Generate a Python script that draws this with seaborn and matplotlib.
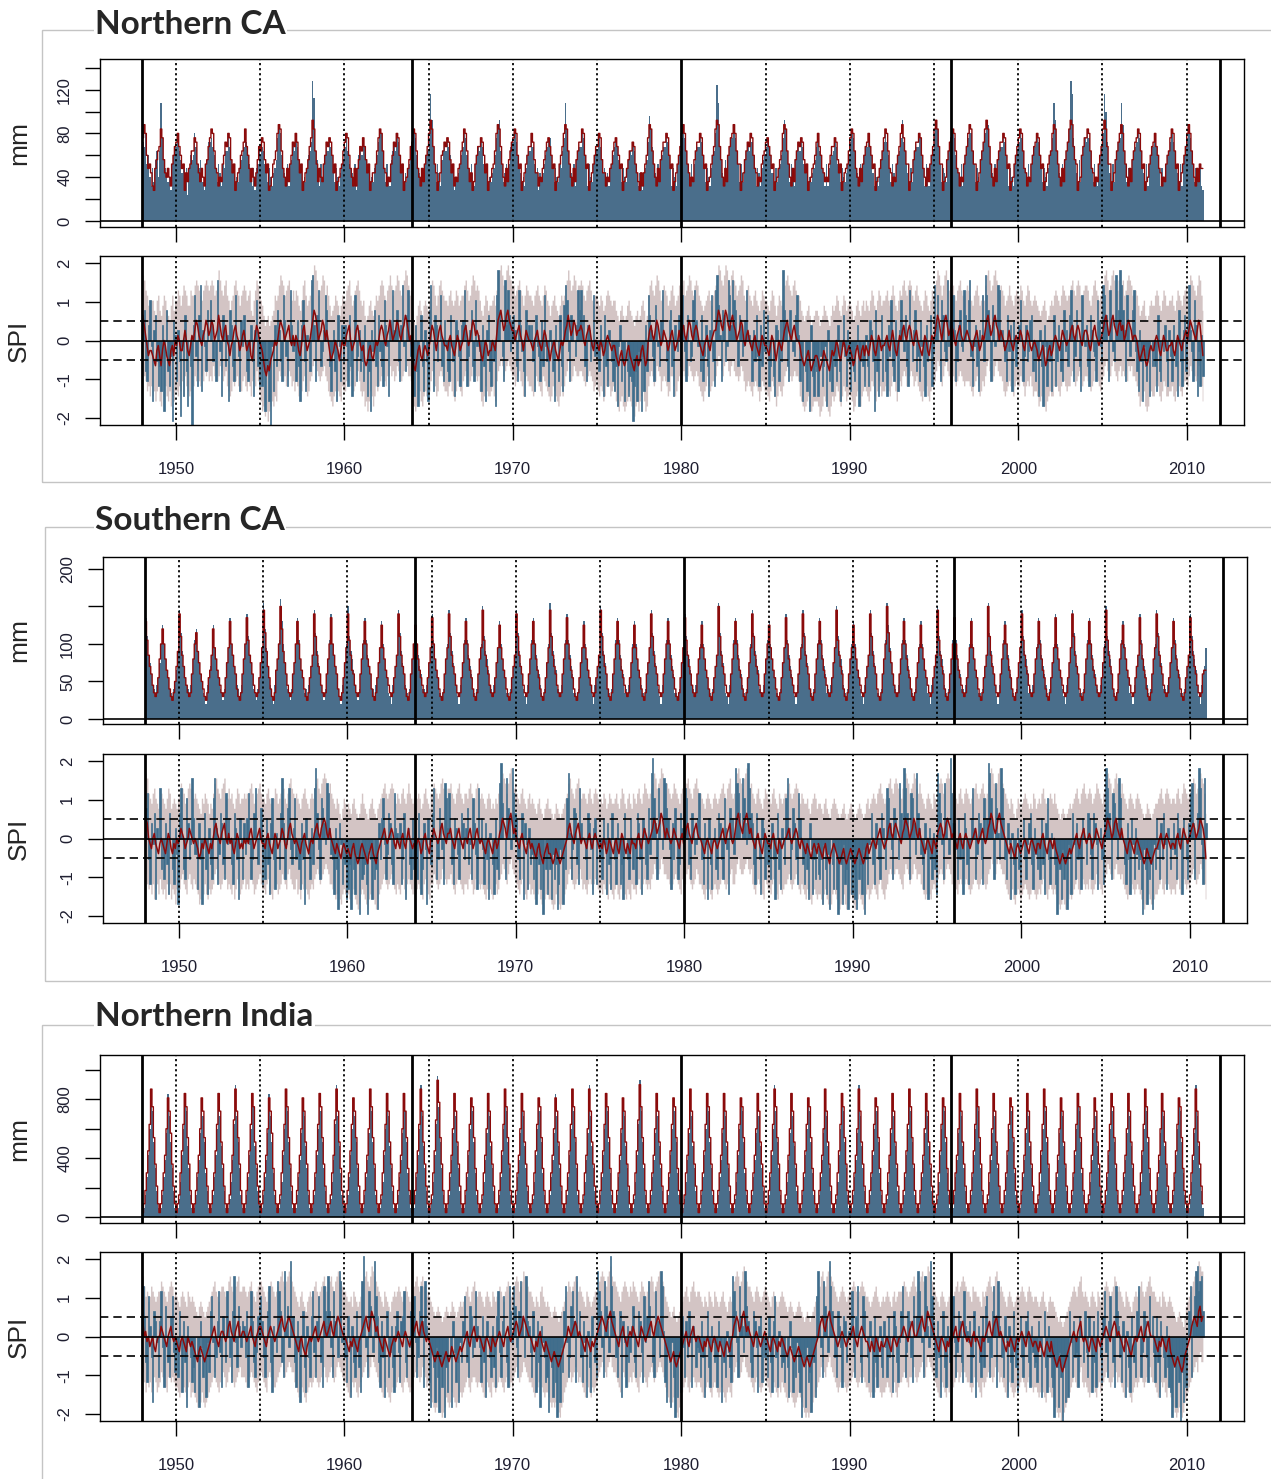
import numpy as np
import pandas as pd
import matplotlib
matplotlib.use("Agg")
import matplotlib.pyplot as plt
import seaborn as sns
from matplotlib.patches import Rectangle

# ---------------- data (monthly, Jan 1948 - Dec 2010, one 12-char group per year) ----------------
# each character is a level index in ALPH; value = (index - zero) * step
ALPH = "0123456789abcdefghijklmnopqrstuvwxyz"
START_YEAR = 1948
REGIONS = ["Northern CA", "Southern CA", "Northern India"]

# Northern CA precipitation (mm, step 4)
NCA_MM_BAR = """
ihkdfa8c9ega grjecb9a7dfh hjgebdac6cfe fkhdceb97dei ijhfc9db8dcg gkhebd7a9cef
hjifdb8c7cdh fhgdb9ca8bce jmkfcb9d8deh gjhebd7a9cfg iwsgeb8d9dfh gihfb9ca8bde
hkgdcb8d7cfg fjhebd9a9cdf ilkgc9da8egi gjifbd7b9cdh hkjfcb8c9dfg jtnhd9db8egi
gihfbc7a9bdf hkjfc9db8dfh gihdbc7a9bcf jmngd9bd9dhi ikifcb9a8cfg gjhdbc7b9bdf
hijfc9ca9dcg jrlgdb9d8egh hkjfc8da9dfg gjhebc8b8cdf hihec9ca9ceg fhgdb8ba7bce
iolhdb9d9efh hkifc8ca8dfg jmjgdb8d9dgh hkifc9ca8cfg kvrheb8e9fhj jmjgd9db9egi
gjifc8cb8cef hihfbb8c9cdf jnlgd9db8egh gihdbc7a9bce hjgfcb8d8cef gihdb9ca9bdf
ikjgcb8d9dfh hjhfb8ca8ceg ikifc9db9dfg jnigdb8c9egh hkjfc8db8dfg knlhd9cb9egi
ikjfcb8d8dfh jmkgd9ca9egi knmhdb9d9egh hkifc8ca8dfg ikjgcb8d9dfh hjifc9ca8cfg
jrngdb9d9egi lwtjeb8e9fhj ikjgc9da8dfh ktpidb8d9egi jrmgd9ca9egh iljgcb8d8dfh
hjhfc8ca9dfg ikigcb8d8dfh jmjgd9ca9c87
"""
NCA_MM_LINE = """
jmkfcdb87ceg hljebaca8dfh ikhfcd7b9cdg gjidb9ca8deh jlkgcb8a9dfi hkjebd79bcfg
ilhfc9ca8beh gjiebd78adeg kmlgca8c9dfi hkiebd79bceh jnlgd9ca9dfi hjifbd79acdg
ikjfca8c8ceh gjhebd79bbdg jlkgcb8a9dfi hkjfbd79aceh ilkgca8c9dfh knlhdb79bfgi
hjiebd8a9cdg ilkgc9b79dfh hjifbd79acdg kmlhda8c9egi jlkfcd79bdfh hkiebb8a9ceg
ijhfcd79adfh kmlgda8c9egi ilkfcd79bdfh hkjebb8a9cdg ijhfcd79aceg gihdb97b8bdf
jmlgda8c9egi ikjfcd79bdfh kmkgdb8a9egi ikjfcd79adfh lnmhea8c9fhj kmkgdd79begi
hkjfcb8a9dfg ijhfcd79aceg kmlgda8c9egi hjiebd79acdf ikhfcb9a9dfh hjiebd79bcdg
jlkgca8c9dfh ikhfcd79aceg jlkgcb8a9dfh kmjgdd79begi ikjfca8c9dfh lnlhdd79aegi
jlkgcb8a9dfh kmlgdd79begi lnlhda8c9egi ikjfcd79adfh jlkgcb8a9dfh ikjfcd79bdfg
kmlgda8c9egi lnmhed79afhj jlkgcb8a9dfh lnlhdd79begi kmkgda8c9egi jlkgcd79adfh
ikhfcb8a9dfg jlkgcd79bdfh kmkgda8c9dcc
"""
# Northern CA SPI (step 0.13, 'h' = 0)
NCA_SPI_BAR = """
lnb9kpg5jmd8 c7k3hnb8e1li 9jd2g6mb4hc0 kqe8ms7jgbnh pkdh9tlf6mjc i5nkc9qhe7lg
mhb9fkd6jpc8 e8c3hb50g7kc njd9qle8hrkf g9lc5kpd7ihb tuk9mrhcfjqn hc7fjb5mg9kd
kg8mc6hq9ejb d9kh6b3jfnc8 mfc8pkg6lhrj jnd9ksgbmrhe e6kb4hmc7jd5 nsh7mkdhqc9l
gb9mhd6lje8k lrk8ejnc9pgi f7kc5jmb8hd4 qvnhe9tkrmfl mjc9rkfb6nhk hkd7mge9lcqg
d8jfb5kh9mc7 ospf9mlhekrn rhmc9kjdgqeh ebkg6mc8jhd9 7c4gk9d5hb6a 918b5fd3e7kb
qmje9okgclrh hd9lnc6kgfmc qkf9mhdeprlg gbm9ekc6jqd8 ruoi9nmdgtqk tpnhcmkeglri
ig9jdme8kcnf gm8cha6kj9ld vnkc9nhfemqi 9d5hb7e3ka6c b6he8cg4j9d7 ec9kb5gme8jd
7eb9gk4dhc8i c8ljd3nb6gm9 hb6kepc9lf7j pkfmc8rhdjnb e9lgc6kdhm8f skqh9pmfdtgl
lqj9dkngfrmh pte8gkc7jhqd uqnk9omghsrj jgd9mfk7lich kph9ekdflmbg 9e6jc4kg8hd7
gm8dkhb9nfjc mrk9enhc7qjg kc8mjfe9plgd sqmh9rlfdujn vsnj9qkehnrf b7jd5gc9e6hc
gc7mb9hfkd8j e9khc6nd8jmb lsjf9pk6f8ia
"""
NCA_SPI_LINE = """
mkigeffedcfg ecfhgedcfgeh gihffhjhfegi hjlkihgijlki jlkhijmkihjk hgeghjkihfgi
jhfghedgikjh gfdbacbdefhg hjlkjhijkhgi gihfegjkhfgh jlnmkhijlkhj hfdefhgfdfhg
gijkhfghjkig fgdcdfgedfhg hjkjhgijljhi jlkihjkmljhi ecbdfgedfgfe gikjhfhjkihg
gfhigfegihfg hjkighjlkiji gedfhgeffhgf ilmnljkmnlkj jhijkihfhjih hgfhijhgfhji
gfdfghfedfhg hjkmkijlkijj kjhgijkigfhh gfhgefhihgfg gedcefdcdfge dcbdecdfgecd
hjkihjlkighj ihfgijhfghjh jkihjlkihjkj hgfeghigfhij jlnmkjlnmkjl mkjhijlkhgij
hgfhigfegihg gfegihfdfhgf hjkljihjkihh gedcdefdbcde edbcdfedcbdf efhgedfhgefg
fecdfgedfgeg fegihfegihfg ghigfhjhfegi hjkihjkjhgij hgfegihfegih ikmljhjlmkij
kjhgijkihhij ihgfhijhfgih jlmkijlmkjhj ihfghjhgfhih hjigfhjigfgh gfdefgecdfge
fhihgfhjihgh hjkihjkjhgij jigfhjkihghi jlmkijlmkjik ljkhiklkjhii hfdefgdcdfgf
fhihfegihffg ghfegihgfhij hjlkjihjlkhe
"""
NCA_SPI_LO = """
ba9786867578 547686574657 768796a87679 8a9b98a9bab9 a9cab9acb9ab 8767989a8779
a879869a8b97 534231345465 9bab9a8aba89 7986579a8679 acdcba9abca9 765467576587
79ab8678ab97 674535764687 89ab98aacab9 acba9abdcaa9 643467546765 79ba867aba87
768976579876 9aba89acba9a 754687667865 9bcdcabcdcba a89ab9869a98 8768a9876a98
765687654686 8abdb9acbaab ba989aba9789 768756898678 754356434575 432453567534
8aba89cba79a 9867aa8679a8 aba9acba9aba 876578a87899 acedbacedbac dbaa9acb9789
876898757987 765798646876 8abcba9abaa9 654345643455 542346543246 568754687567
653467546797 657986579867 789768a97579 8aba89aba89a 876579865798 9bdca8acdba9
ba989aba9899 987689a86798 acdba9acdbaa 976789876898 8a986898a867 764567435676
689876899878 8aba89aba89a a98789ba9879 acdbaacdba9b cabab9cbcaa9 864567434676
689865798667 786579876899 8acbaa9acb85
"""
NCA_SPI_HI = """
utrqooppnmpq nmoqpnmloqnp prqoqsrqoorq qstsrqprstsr stsqrsvtrqst qpnpqstrqoqr
srpqrnmprtsq pomklmklmnqp qsutsqrstqpr prqonpstqopq suwvtqrsutqs qomnoqpomoqp
prstqoprstrp opmlmopnmoqp qstsqprsusqr sutrqstvusqr nlkmopnmopon prtsqoqstrqp
poqrpoprqopq qstrpqsutrsr pnmoqpnoopqo ruvwustvwuts sqrstrqoqsrq qpoqrsqpoqsr
pomopqonmoqp qstvtrsutrss tsqprstrpoqq poqpnoqrqpop pnmlnomlmopn mlkmnlmopnlm
qstrqsutrpqs rqoprsqopqsq stqrsutrqsts qponopqrpoqr suwvtsuwvtsu vtsqrsutqprs
qpoqrponprqp ponprqomoqpo qstusrqstrqq pnmlmnomklmn nmklmonmlkmo noqpnmoqpnop
onlmopnmopnp onprqonprqop pqrpoqsqonpr qstrqstsqprs qponprqonprq rtvusqsuvtrs
tsqprstrqqrs rqpoqrsqopqp suvtrsuvtsqs rqopqsqpoqrq qsrpoqsrpopq ponmnopnlmop
oqrqpoqsrqpq qstrqstsqprs srpoqstrqpqr suvtrsuvtsrt ustqrtutsqrr qomnopmlmopo
oqrqonprqoop pqonprqpoqrs qsutsrqsutqn
"""

# Southern CA precipitation (mm, step 5)
SCA_MM_BAR = """
rmhfc9869bfk pkgdb8758adi tnieb9869cgl oifca7649beh pjgdb8758bfj rkhec9869cgk
smhfc8758bfj vojeb9649dgl wqkfc8758cfk rlgdb7869beh tnifc9758cgl skhec8649bfk
umigd9758cgl rlhec8869bfj qkgdb7649beh tnifc9758cgk qkhec8869bfj slgdb7758cgk
tnifc9649bfl rlhec8758cgk umigd9869bfj qkgdb7758beh tnifc8649cgl rlhec9758bfk
vnigd8869cgl slhec7758bfj qkgdb9649beh unifc8758cgl rlhec7869bfk qkgdb9758cfj
tnifc8649cgl rlhec7758bfj smigd9869cgk qkgdb8758beh vnifc7649cgl rlhec9758bfk
tnigd8869cgl qkgdb7758bfj slhec9649cgk tnifc8758cgl rlhec7869bfj umigd9758cgk
qkgdb8649beh tnifc7758cgl vpjfc9869cgl rlhec8758bfk qkgdb7649beh umigd9758cgl
slhec8869bfk rkgdb7758beh vnifc9649cgl qkhec8758bfj tmigd7869cgk rlhec9758bfk
skgdb8649bfj tnifc7758cgl rlhec9869bfk umigd8758cgl qkgdb7649beh slhec9758cgk
tnifc8869bfj rlhec7758beh smigd9649cej
"""
SCA_MM_LINE = """
qlhec9767bgk okgdb8657aei smheb9767cgk nifca8657bdh ojgdb9767bfj qkhec8657cgk
rlhfc9767bfj tnieb8657dgk uoifc9767cfk qkgdb8657beh smhec9767cgk rkhec8657bfj
slhdc9767cgk qkgec8657bfj pjgdb9767beh smhec8657cgk pkgdb9767bfj rkgdb8657cgj
smhec9767bfk qkgdb8657cgj tlhec9767bfj pjgdb8657beh smhec9767cgk qkgdb8657bfj
tmhec9767cgk rkgdb8657bfj pjgdb9767beh tmhec8657cgk qkgdb9767bfj pjgdb8657cfj
smhec9767cgk qkgdb8657bfj rlhec9767cgj pjgdb8657beh umhec9767cgk qkgdb8657bfj
smhec9767cgk pjgdb8657bfj rkgdb9767cgj smhec8657cgk qkgdb9767bfj tlhec8657cgj
pjgdb9767beh smhec8657cgk unifc9767cgk qkgdb8657bfj pjgdb9767beh tlhec8657cgk
rkgdb9767bfj qjgdb8657beh umhec9767cgk pkgdb8657bfj slhec9767cgj qkgdb8657bfj
rjgdb9767bfj smhec8657cgk qkgdb9767bfj tlhec8657cgk pjgdb9767beh rkgdb8657cgj
smhec9767bfj qkgdb8657beh rlhec9767cdd
"""
SCA_SPI_BAR = """
nqd8kgm5jhrb g9kc6mhb8je4 mrhb9pkdgtle e7kd4hmb6jc9 ptj8emkc9qgl hc8mjd5lg9ke
lqg9dmrhcjn8 f9lc6kpd7ihb mtk9gnrfcjpd gb7kd4lhe9jc rvmf9pnkgsqj ed6jb3kg8hc5
7c3gb6ed2h9a c82fd5h9b3kd lpg9emkc8qji gk8dm5hjc9lb d9mh6bkf4lgc mrh9dnkf8spj
qhc8lje9gmkd jncg9pke7rhl f8kd5ihc6lb9 swoh9tnlfvqm ld9hm5kg7jce 9e4gc7d2hb6f
b5e9c38fd4hb pui9fnmc8rkh hd9mkf6jl8gd e9lg6kc7mhd8 kf8c5mhd9lgb g8mkd6ljc9ne
uxpk9rmhftsn lf7kdnh9cmjf rpkc9mjeglqh d8kg5lc7hjb9 mkd9pjf6nhle vsqmhtpkgwrm
kc8mhd6lj9fc e9kd5hmb7jgc ptj9fnkd8qlh c8hb5kf6d9ga 9d4gb6e3hc7f 72dc4g8b3fd6
b53e9c6f2d8g hmc8kgd9mjfb rpkf9nlhdsmi vrmh9qpkeumj ec7kf5jd9ib6 uqmg9slhexqk
kf9ldh6mjc8g lrj9emkd8phl wupk9snidvrl d9kg5ic6hjb8 hld9gkmc7jeb f9lc6kpd8ihc
82db5f9c3ge6 mg9kde7ljhcm le9mkg7hjd8l vrmh9qokdtpi hc8kd6lg9jeb d72fb4e9c3gb
lf9kdmg7jhbf ke9mjf6lhd9k qsk9hmvrg8tk
"""
SCA_SPI_LINE = """
lkhgfhigfegh gfegihfegfhg hjihfghjihgh gfdegfhgfegf hjkihgijkhgi ghfegihfgfhg
hgijhfghijhg gfhigfegihfg hjigfhjkihgh gfeghigfeghg ijkihjklkihj hgfegfedfgfe
fedfgedcdfgf edcefgedcefg hijhghijigfh gfhigfhjhgfg fghgefhigfeh hjihghjkihgi
ijhgfhijhgfh hgijhfgijhgh gfeghgfeghfg ijlkjhjlmkij hgfhigfeghfg fedfgedcefge
edcdfedcdefg hjkihgijkigh hgfhigfhihgf gfhgefhgfegh fegihfegfehg gfhigfhjihgh
ijlkijkmljhj ihghjihgfhig hjkihgijkihh gfeghgfeghgf ghijhgijkhgh jlmkjiklmkij
hgfhigfegihg gfhigfehgfgh hijhghijigfh gfegfedfgfeg fedfgedcefgf edcdefdcdefe
dcdefedcdfge fghgfhijhgfg hjkihjkjihgi jlkjhijlkihj hgfeghgfehgf ijkjhiklkjhi
hgfhigfhihgf ghijhghijhgh jkmljijlmkji hgfegfedfgfe fghgfeghgfeg gfhigfeghgfh
fedcdedcdefe fghigfhijhgh ihfghjihgfhi jlkjhikljihj hgfeghgfeghg fedcdfedcdef
fghigfhihgfg gfhigfhjihgh ijkjhijlkjhd
"""
SCA_SPI_LO = """
a87968578697 675868576476 79a8769a8798 764576865767 8ab98789a978 768579867897
879a86789a87 768976579867 8a987ab98779 675879765787 9aba89abcba8 876568546765
654675434676 543567543567 89a8789a9768 768976898767 678765897658 8a98789ba989
9a87689a8768 879a8679a878 765787657867 9acba8acdba9 876897657867 654675435675
543465434567 8ab98789ab97 876898789876 768765876578 657986576587 768976898787
9acb9abdcaa9 98789a987698 8ab98789ba88 765787657876 789a8789ab88 acdbaabcdbab
876898765987 768976587678 89a8789a9768 765765467656 654675434676 543456434565
434565434675 678765897657 8aba9abba987 acba89acb9aa 876567657876 9aba89bcba89
876898789876 789a8789a878 abdcaacdcbaa 876567546765 678765678656 768976578767
654345434565 678976898787 97678a987689 acbaa9bcaa9a 876567876787 654345654456
678976898767 768976898787 9aba89acba85
"""
SCA_SPI_HI = """
utqpoqrponpq ponprqnoponp qsrqoprsrqpq ponmpoqpomon qstrqprstqpr pqonprqoppqp
qprsqopqrsqp poqrponprqop qsrpoqstrqpq ponpqrponpqp rstrqstutrqs qponpomlnpon
onmopnmlmoqo nmlnopnmlnop qrsqpqrsrpoq poqrpoqsqpop opqpnoqrponq qsrqpqstrqpr
rsqpoqrsqpoq qprsqoprsqpq ponpqpnonpoq rsutsqsuvtrs qpoqrponpqop onmopnmlnopn
nmlmonmlmnop qstrqprstrpq qpoqrpoqrqpo poqpnoqpoopq onprqonpqonq poqrpoqsrqpq
rsutrstvusqs rqpqsrqpoqrp qstrqprstrqq ponpqponpqpo pqrsqprstqpq suvtsrtuvtrs
qpoqrponprqp poqrponqpopq qrsqpqrsrpoq poopnmopqpno onmopnmlnopo nmlmnomlmnon
mlmnonmlmopn opqpoqrsqpop qstrqstsrqpr sutsqrsutrqs qponpqponqpo rstsqrtutsqr
qpoqrpoqrqpo pqrsqpqrsqpq stvusrsuvtsr qponpomlnpon opqpononqpno poqrponpqpoq
onmlmnmlmnon opqrpoqrsqpq rqopqsrqpoqr sutsqrtusrqs qponpqponpqp onmlmonmlmno
opqrpoqrqpop poqrpoqsrqpq rstsqrtutsqm
"""

# Northern India precipitation (mm, step 30)
IND_MM_BAR = """
1259ektohb62 1259djsnhb62 1248eksogb52 1259djrnha62 1259eksngb62 1248dlunhb52
1259ekspgb62 1259djsnha52 1248ektohb62 1259djrngb52 1259eksohb62 1248dlunga52
1259ekrnhb62 1259djtohb52 1248eksngb62 1259djsoha52 1259ekungb62 1248elwphb52
1259djsngb62 1259ekroha52 1248djsngb62 1259ektohb52 1259djsngb62 1248ekroha52
1259djsngb62 1259ektohb52 1248djungb62 1259eksoha52 1259djrngb62 1248elvohb52
1259djsngb62 1259ekroha52 1248djtngb62 1259eksohb52 1259djsngb62 1248ekroha52
1259djsngb62 1259ekuohb52 1248djsngb62 1259ekroha52 1259djtngb62 1248eksohb52
1259djungb62 1259ekroha52 1248djsngb62 1259ektohb52 1259djsngb62 1248ekroha52
1259djsngb62 1259ektohb52 1248djsngb62 1259ekroha52 1259djsngb62 1248ektohb52
1259djrngb62 1259eksoha52 1248djrngb62 1259eksohb52 1259djsngb62 1248ektoha52
1259djsngb62 1259ekroha52 1248djungb62
"""
IND_MM_LINE = """
136afltpic73 136aekrojc73 135aflspic63 136aekroib73 136aflsohc73 135aemtoic63
136aflsphc73 136aekrojb63 135afltpic73 136aekrohc63 136aflspic73 135aemtohb63
136aflroic73 136aektpic63 135aflsohc73 136aeksoib63 136afltohc73 135afmvqic63
136aeksohc73 136aflrpib63 135aeksohc73 136afltpic63 136aeksohc73 135aflrpib63
136aekrohc73 136afltpic63 135aektohc73 136aflspib63 136aekrohc73 135afmupic63
136aeksohc73 136aflrpib63 135aektohc73 136aflspic63 136aeksohc73 135aflrpib63
136aeksohc73 136afltpic63 135aeksohc73 136aflrpib63 136aektohc73 135aflspic63
136aektohc73 136aflrpib63 135aeksohc73 136afltpic63 136aeksohc73 135aflrpib63
136aeksohc73 136afltpic63 135aeksohc73 136aflrpib63 136aeksohc73 135afltpic63
136aekrohc73 136aflspib63 135aekrohc73 136aflspic63 136aeksohc73 135afltpib63
136aeksohc73 136aflrpib63 135aektohc73
"""
IND_SPI_BAR = """
rlc8pjd4mkg9 kqf7nhc9lpea e9mh6kc3jgd8 b6hd3kf9c5ga mpg9dkqe7lhc qkd8mtgbnjfk
jdm7hqkc9eln pkd9gmrc6jhe sqmc9ujnfwkl c7kf4hmb6jd9 lqe9kphc7rmj tmf9qkldusgj
d8lg5jc9mfb6 sxkf9qnhewpl c7kd5hm9ejb6 jme8klqc9hfm npg9dmrk7sjh 83eb4f92c7d1
b6hd3ke8c4gc kphc9nldfqjh f8lc5khd9jb7 lqe9kphc7rmg rnf9mslhdtkj e9mh6kc3jgd8
92db5e81c4fa mrg9dnqk8thm d8kg5ib6lhc9 uqmf9snkexrm ld9hm5kg7jce jnc9hmke8pgl
snhc9qlkduri 84ec3g91b5d6 lf9kdmg7jhbf e9kd5hmb7jgc d7kg4hc9ieb8 tqmg9rljeunk
hc9mkf6jl8gd f9lc6kpd7ihb c8hb5kf6d9ga 61dc3f8a2ec5 pukf9snlewrm hd9mjf7lkcgi
jqe9lrhc8pmh d8kg5lc7hjb9 kf9ldh6mjc8g mrh9emkd8phl uqkg9tnjfwpk e9kd5hmb7jgc
lpg9emkc8qji gk8dm5hjc9lb npg9dmrk7sjh d9lg5jc8mfb6 hld9gkmc7jeb c8kf5hmb6jd9
71cb3e90b4d5 mg9kde7ljhcm e9lg6kc7mhd8 lqe9kphc7rmj d8kg5ib6lhc9 mrh9emkd8phl
e8lc5khd9jb7 61cb3d80a4c7 hmr9kpuvqstm
"""
IND_SPI_LINE = """
khighfghfegh hjihgfhijhgh gfeghgfehgfg fedcefedcdef ghijhgfhiihg hjkihgijkhhi
ihghijhgfhij jihgfhijihgh ijkljijklkji hgfeghfedfgh ghijhghijkih ijkihjklkjih
hgfegfhgfegh ijkljikmlkij hgfehgfedfgh ghihgfhihgfg hijkihjkihgh gfedcdedcbcd
edcdfedcdefe fghigfhijhgh hgfeghgfehgf ghihgfhijhgh ijkjhijlkjih hgfegfhigfeg
fedcdedcbcde fghjihijkjhi hgfehgfegfgh ijklkjiklmkj ihgfhijhgfhi hjihgfhjihgh
ijkihjklkjih gfedcdecbcde fghigfhijhgh hgfegfhgfegh gfegfedfgfeg hjklkijlmkij
ihgfhihgfghi hgfeghgfegfh gfedefedcdef edcbcdcbcdef ghjkljiklmkj ihgfghihgfgh
hijhgfhijihg gfegfehgfegf fghgfeghgfgh hijihgijkihh ijkljikmlkji hgfeghgfegfh
ghijhgijkihg hgfhighgfehg hijkihjkljhi hgfegfhgfegh ghihgfhihgfg gfegfedfgfeg
edcbcdbabcde fghihgijkhgh gfeghgfehgfg hijihgijkjhi hgfehgfedfgh ghijhgijkihh
hgfegfhgfegh edcbcdcbabde fghjklkjmnkl
"""
IND_SPI_LO = """
a86978679867 8a98769a8987 765687657856 654354643456 789a87689a97 8ab98789ab99
98789a987689 a98769a98778 9abca9abcbaa 876567654678 789a8789ab98 9aba89bcba98
876568786578 9abca9bdcba9 876587654678 789876898767 89ab989ba978 654323432123
543465434565 678976899878 876568765876 789876898787 9aba89acba98 876567897656
654343432134 6789a89aba89 876587657678 9abcba9bcdba a98769a98789 8a98769a8987
9aba89abcba9 765434532134 678976899878 876567876578 765676546765 8abcb9acdba9
987689876789 876578765768 765456543456 543212123456 789bca9bcdba 987678987678
89a98789a987 765676987656 678765786578 89a98799ab98 9abca9bdcba9 876578765768
6789a89aba98 876798876587 89ab989bca89 876568765678 789876898767 765676546765
543212012345 6789879ab878 765687657867 89a98789ba89 876587654678 789a8789ab98
876568786578 543212321245 6789abcadecc
"""
IND_SPI_HI = """
trpqoprqpopq qsrqpoqrsrpq ponpqponqpop onmlnonmlmno pqrsqpoqrrqp qstrqprstqqr
rqpqrsqpoqrs srqpoqrsrqpq rstusrstutsr qponpqonmopq pqrsqpqrstrq rstrqstutsrq
qpoopnqponop rstusrtvutsr qponqponmopq pqrqpoqrqpop qrstrqstrqpq ponmlmnmlklm
nmlmonmlmnon opqrpoqrsqpq qponpqponqpo pqrqpoqrsqpq rstsqrsutsrq qponponqrpon
onmlmnmlklmn opqsrqrstsqr qponqponopqq rstutsrtuvts srqpoqrsrqpr qsrqpoqsrqpq
rstsqrstutsr ponmlmnlklmn opqrpoqrsqpq qponponqponq ponopqonmopo qstutrsuvtsr
rqpoqrqpopqr qponpqponopq ponmnonmlmno nmlklmlklmno pqrtusrtuvts rqpopqrqpopq
qrsrqpqrsrqp ponopqrponop opqponpqopqq qrsrqpqrstrq rstusrtvutsr qponpqponopq
opqrsqrstsrq qporqqpponqp qrstrqrtusqr qponpqponopq pqrqpoqrqpop ponopqonmopo
onmlklkjklmn opqrqprstqpq ponpqponqpop qrsrqpqrtsqr qponqponmopq pqrsqpqrstrq
qpoopnqponop onmlklmlkjln opqrstuswvuu
"""

MM_BARS = [NCA_MM_BAR, SCA_MM_BAR, IND_MM_BAR]
MM_LINES = [NCA_MM_LINE, SCA_MM_LINE, IND_MM_LINE]
MM_STEPS = [4, 5, 30]
SPI_BARS = [NCA_SPI_BAR, SCA_SPI_BAR, IND_SPI_BAR]
SPI_LINES = [NCA_SPI_LINE, SCA_SPI_LINE, IND_SPI_LINE]
SPI_LOS = [NCA_SPI_LO, SCA_SPI_LO, IND_SPI_LO]
SPI_HIS = [NCA_SPI_HI, SCA_SPI_HI, IND_SPI_HI]
SPI_STEP, SPI_ZERO = 0.13, 17

MM_TICKS = [[0, 20, 40, 60, 80, 100, 120, 140], [0, 50, 100, 150, 200], [0, 200, 400, 600, 800, 1000]]
MM_TICKLABELS = [["0", "", "40", "", "80", "", "120", ""], ["0", "50", "100", "", "200"],
                 ["0", "", "400", "", "800", ""]]
MM_YLIM = [(-5.5, 148), (-6.7, 216), (-41, 1102)]
SPI_TICKS = [-2, -1, 0, 1, 2]
SPI_TICKLABELS = ["-2", "-1", "0", "1", "2"]
YEAR_TICKS = [1950, 1960, 1970, 1980, 1990, 2000, 2010]
SOLID_YEARS = [1948, 1964, 1980, 1996, 2012]
DOTTED_YEARS = [1950, 1955, 1960, 1965, 1970, 1975, 1985, 1990, 1995, 2000, 2005, 2010]


def decode(code, step, zero=0):
    return np.array([(ALPH.index(c) - zero) * step for c in code if not c.isspace()], dtype=float)


def month_centres(n):
    return START_YEAR + (np.arange(n) + 0.5) / 12.0


# ---------------- style ----------------
sns.set_style("ticks")
plt.rcParams["font.family"] = ["Liberation Sans", "DejaVu Sans"]
BLUE = "#4a6e8b"
SPI_BLUE = "#3f6d8c"
RED = "#8b0a0a"
BAND = "#d3c4c4"
TICKCOL = "#1e1e30"

W, H = 1271, 1479
fig = plt.figure(figsize=(W / 100, H / 100), dpi=100)


def px_axes(l, t, r, b):
    return fig.add_axes([l / W, 1 - b / H, (r - l) / W, (b - t) / H])


MM_BOX = [(100, 59, 1244, 227), (103, 557, 1247, 724), (100, 1055, 1244, 1223)]
SPI_BOX = [(100, 256, 1244, 425), (103, 754, 1247, 923), (100, 1252, 1244, 1421)]
FRAMES = [(42, 30, 1276, 482), (45, 527, 1276, 981), (42, 1025, 1276, 1484)]
TITLE_Y = [24, 520, 1017]


def common(ax):
    ax.set_xlim(1945.5, 2013.4)
    ax.set_xticks(YEAR_TICKS)
    for s in ax.spines.values():
        s.set_visible(True)
        s.set_color("black")
        s.set_linewidth(1.0)
    ax.tick_params(axis="both", direction="out", length=11, width=1, color="black",
                   labelsize=12, labelcolor=TICKCOL)
    ax.tick_params(axis="x", pad=16)
    ax.tick_params(axis="y", pad=9)
    for x in SOLID_YEARS:
        ax.axvline(x, color="black", lw=2.0, zorder=6)
    for x in DOTTED_YEARS:
        ax.axvline(x, color="black", lw=1.3, ls=(0, (1.2, 1.6)), zorder=6)
    ax.set_xlabel("")


for r in range(3):
    # outer frame and title
    fl, ft, fr, fb = FRAMES[r]
    fig.add_artist(Rectangle((fl / W, 1 - fb / H), (fr - fl) / W, (fb - ft) / H,
                             transform=fig.transFigure, fill=False, edgecolor="#c4c4c4",
                             lw=1.0, zorder=0))
    fig.text(95 / W, 1 - TITLE_Y[r] / H, REGIONS[r], fontsize=24, fontweight="bold",
             family=["Lato", "DejaVu Sans"], ha="left", va="center", zorder=10,
             bbox=dict(facecolor="white", edgecolor="none", pad=1.0))

    # ---- precipitation panel ----
    ax = px_axes(*MM_BOX[r])
    bars = decode(MM_BARS[r], MM_STEPS[r])
    line = decode(MM_LINES[r], MM_STEPS[r])
    ax.bar(month_centres(len(bars)), bars, width=1 / 12, color=BLUE, linewidth=0, zorder=2)
    sns.lineplot(x=month_centres(len(line)), y=line, ax=ax, color=RED, lw=1.0,
                 drawstyle="steps-mid", estimator=None, errorbar=None, sort=False, zorder=3)
    ax.axhline(0, color="black", lw=1.2, zorder=5)
    ax.set_ylim(*MM_YLIM[r])
    ax.set_yticks(MM_TICKS[r])
    ax.set_yticklabels(MM_TICKLABELS[r], rotation=90, va="center")
    common(ax)
    ax.tick_params(axis="x", labelbottom=False)
    ax.set_ylabel("mm", fontsize=19, va="center")
    ax.yaxis.set_label_coords((19 - MM_BOX[r][0]) / 1144, 0.5)

    # ---- SPI panel ----
    ax2 = px_axes(*SPI_BOX[r])
    sb = decode(SPI_BARS[r], SPI_STEP, SPI_ZERO)
    sl = decode(SPI_LINES[r], SPI_STEP, SPI_ZERO)
    lo = decode(SPI_LOS[r], SPI_STEP, SPI_ZERO)
    hi = decode(SPI_HIS[r], SPI_STEP, SPI_ZERO)
    n = min(len(lo), len(hi))
    ax2.fill_between(month_centres(n), lo[:n], hi[:n], step="mid", color=BAND, lw=0, zorder=1)
    ax2.bar(month_centres(len(sb)), sb, width=1 / 12, color=SPI_BLUE, edgecolor=SPI_BLUE,
            linewidth=0.5, zorder=2)
    sns.lineplot(x=month_centres(len(sl)), y=sl, ax=ax2, color=RED, lw=1.1,
                 estimator=None, errorbar=None, sort=False, zorder=3)
    ax2.axhline(0, color="black", lw=1.2, zorder=5)
    for yv in (-0.5, 0.5):
        ax2.axhline(yv, color="black", lw=1.2, ls=(0, (5, 3)), zorder=5)
    ax2.set_ylim(-2.18, 2.18)
    ax2.set_yticks(SPI_TICKS)
    ax2.set_yticklabels(SPI_TICKLABELS, rotation=90, va="center")
    common(ax2)
    ax2.set_xticklabels([str(y) for y in YEAR_TICKS])
    ax2.set_ylabel("SPI", fontsize=19, va="center")
    ax2.yaxis.set_label_coords((19 - SPI_BOX[r][0]) / 1144, 0.5)

fig.savefig("out.png", dpi=100)
